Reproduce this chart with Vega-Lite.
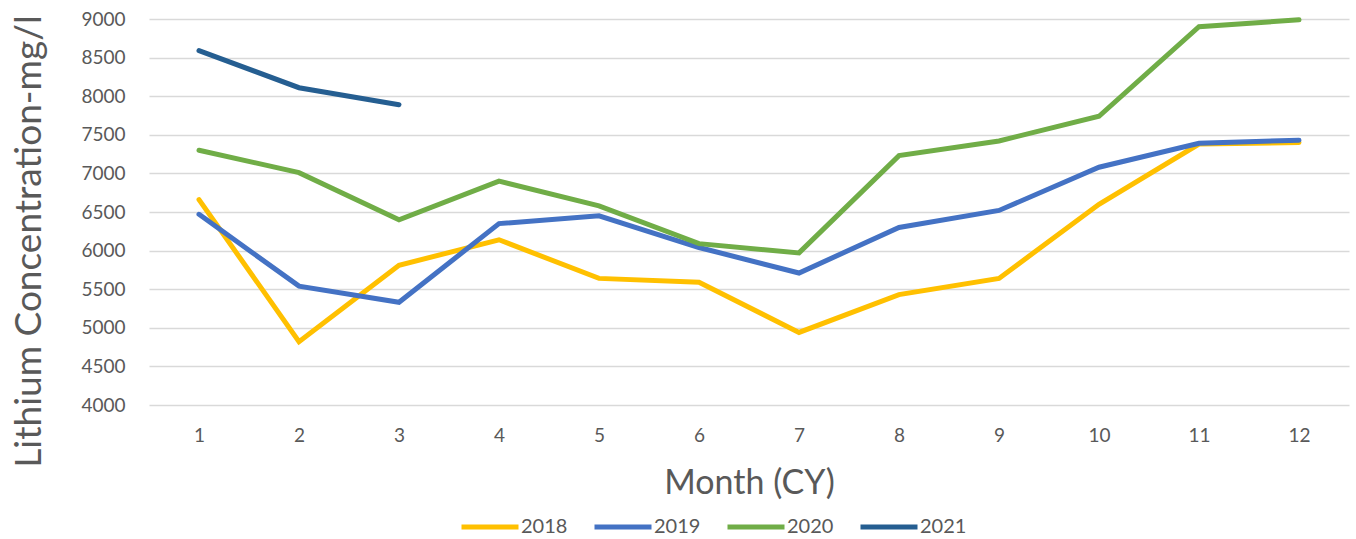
{
  "$schema": "https://vega.github.io/schema/vega-lite/v6.json",
  "width": 1200,
  "height": 386,
  "autosize": {"type": "none"},
  "padding": {"left": 149, "top": 19, "right": 7, "bottom": 134},
  "background": "white",
  "config": {
    "font": "Lato",
    "view": {"stroke": null},
    "axis": {"labelColor": "#595959", "titleColor": "#595959", "labelFont": "Lato", "titleFont": "Lato", "titleFontWeight": "normal"},
    "legend": {"labelColor": "#595959", "labelFont": "Lato"}
  },
  "data": {
    "values": [
      {"month": 1, "year": "2018", "value": 6660},
      {"month": 2, "year": "2018", "value": 4820},
      {"month": 3, "year": "2018", "value": 5810},
      {"month": 4, "year": "2018", "value": 6140},
      {"month": 5, "year": "2018", "value": 5640},
      {"month": 6, "year": "2018", "value": 5590},
      {"month": 7, "year": "2018", "value": 4940},
      {"month": 8, "year": "2018", "value": 5430},
      {"month": 9, "year": "2018", "value": 5640},
      {"month": 10, "year": "2018", "value": 6600},
      {"month": 11, "year": "2018", "value": 7380},
      {"month": 12, "year": "2018", "value": 7400},
      {"month": 1, "year": "2019", "value": 6470},
      {"month": 2, "year": "2019", "value": 5540},
      {"month": 3, "year": "2019", "value": 5330},
      {"month": 4, "year": "2019", "value": 6350},
      {"month": 5, "year": "2019", "value": 6450},
      {"month": 6, "year": "2019", "value": 6040},
      {"month": 7, "year": "2019", "value": 5710},
      {"month": 8, "year": "2019", "value": 6300},
      {"month": 9, "year": "2019", "value": 6520},
      {"month": 10, "year": "2019", "value": 7080},
      {"month": 11, "year": "2019", "value": 7390},
      {"month": 12, "year": "2019", "value": 7430},
      {"month": 1, "year": "2020", "value": 7300},
      {"month": 2, "year": "2020", "value": 7010},
      {"month": 3, "year": "2020", "value": 6400},
      {"month": 4, "year": "2020", "value": 6900},
      {"month": 5, "year": "2020", "value": 6580},
      {"month": 6, "year": "2020", "value": 6090},
      {"month": 7, "year": "2020", "value": 5970},
      {"month": 8, "year": "2020", "value": 7230},
      {"month": 9, "year": "2020", "value": 7420},
      {"month": 10, "year": "2020", "value": 7740},
      {"month": 11, "year": "2020", "value": 8900},
      {"month": 12, "year": "2020", "value": 8990},
      {"month": 1, "year": "2021", "value": 8590},
      {"month": 2, "year": "2021", "value": 8110},
      {"month": 3, "year": "2021", "value": 7890}
    ]
  },
  "mark": {"type": "line", "strokeWidth": 5, "strokeCap": "round", "strokeJoin": "miter"},
  "encoding": {
    "x": {
      "field": "month",
      "type": "ordinal",
      "scale": {"type": "point", "padding": 0.5},
      "axis": {
        "title": "Month (CY)",
        "titleFontSize": 34,
        "titlePadding": 21,
        "labelFontSize": 19,
        "labelAngle": 0,
        "labelPadding": 21,
        "ticks": false,
        "domain": false,
        "grid": false
      }
    },
    "y": {
      "field": "value",
      "type": "quantitative",
      "scale": {"domain": [4000, 9000], "nice": false, "zero": false},
      "axis": {
        "title": "Lithium Concentration-mg/l",
        "titleFontSize": 37,
        "titlePadding": 32,
        "titleY": 222,
        "labelFontSize": 19,
        "labelPadding": 24,
        "values": [4000, 4500, 5000, 5500, 6000, 6500, 7000, 7500, 8000, 8500, 9000],
        "format": "d",
        "ticks": false,
        "domain": false,
        "grid": true,
        "gridColor": "#d9d9d9",
        "gridWidth": 1.5
      }
    },
    "color": {
      "field": "year",
      "type": "nominal",
      "scale": {"domain": ["2018", "2019", "2020", "2021"], "range": ["#FFC000", "#4472C4", "#70AD47", "#255E91"]},
      "legend": {
        "title": null,
        "orient": "none",
        "direction": "horizontal",
        "legendX": 310,
        "legendY": 477,
        "symbolType": "stroke",
        "symbolSize": 3249,
        "symbolStrokeWidth": 5,
        "labelFontSize": 20,
        "labelOffset": 0,
        "columnPadding": 16
      }
    }
  }
}
